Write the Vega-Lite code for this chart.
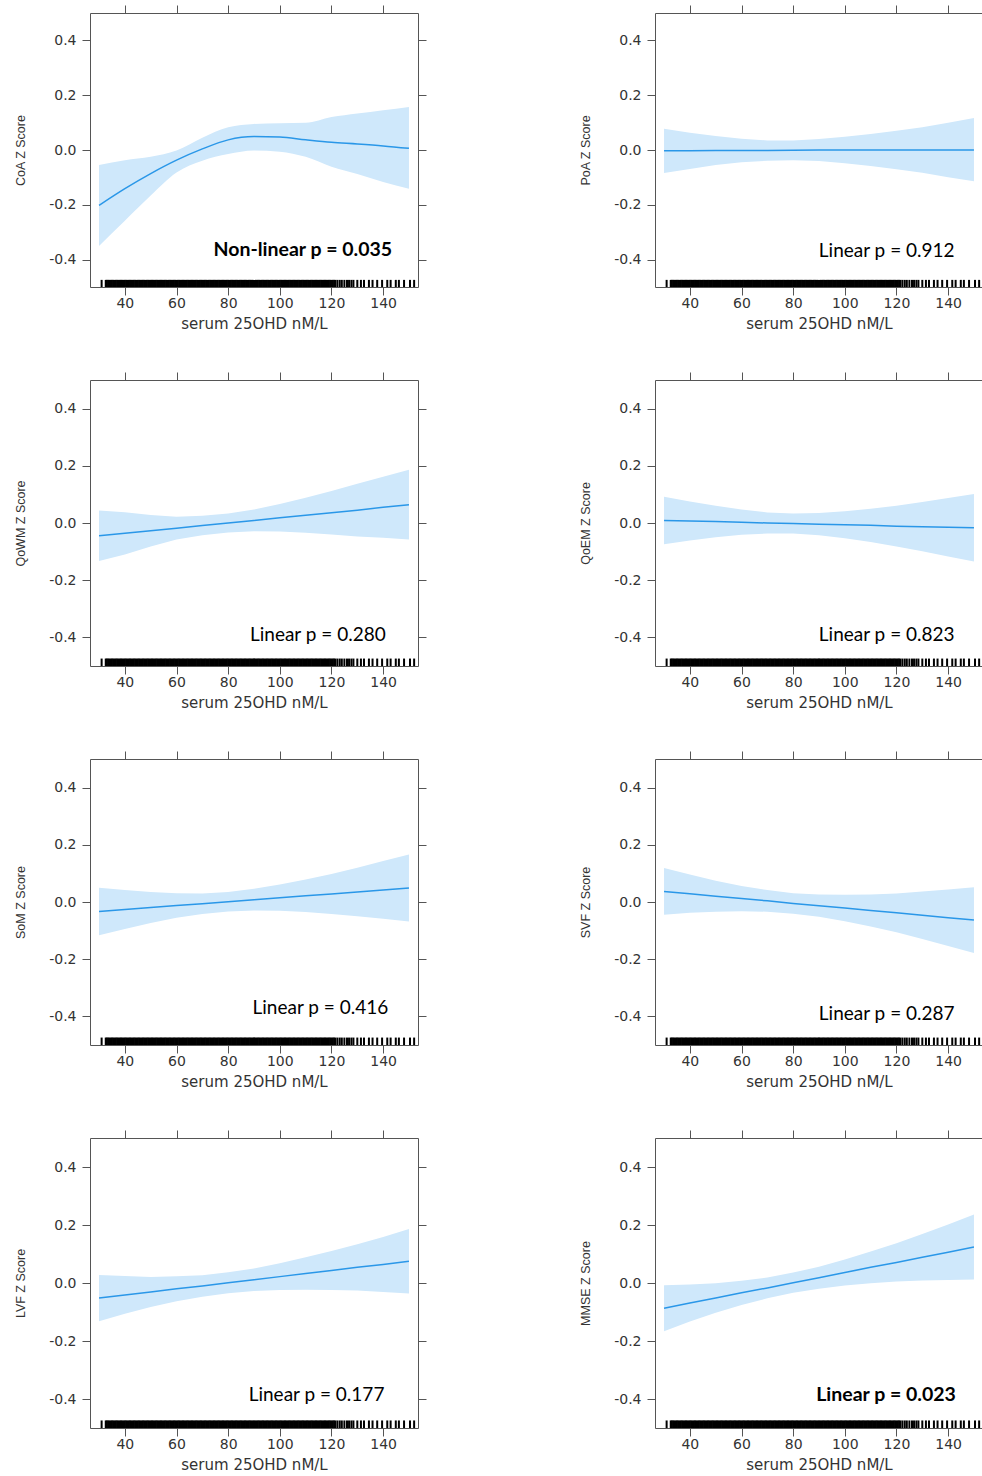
{
  "$schema": "https://vega.github.io/schema/vega-lite/v6.json",
  "background": "white",
  "padding": {"left": 14, "top": 4, "right": 0, "bottom": 5},
  "columns": 2,
  "spacing": {"row": 93, "column": 237},
  "bounds": "flush",
  "datasets": {
    "curves": [
      {"panel": "CoA", "x": 30, "fit": -0.202, "lo": -0.350, "hi": -0.055},
      {"panel": "CoA", "x": 40, "fit": -0.141, "lo": -0.258, "hi": -0.037},
      {"panel": "CoA", "x": 50, "fit": -0.086, "lo": -0.166, "hi": -0.025},
      {"panel": "CoA", "x": 60, "fit": -0.037, "lo": -0.082, "hi": -0.002},
      {"panel": "CoA", "x": 70, "fit": 0.004, "lo": -0.039, "hi": 0.045},
      {"panel": "CoA", "x": 80, "fit": 0.037, "lo": -0.015, "hi": 0.083},
      {"panel": "CoA", "x": 90, "fit": 0.049, "lo": -0.002, "hi": 0.095},
      {"panel": "CoA", "x": 100, "fit": 0.047, "lo": -0.006, "hi": 0.098},
      {"panel": "CoA", "x": 110, "fit": 0.037, "lo": -0.025, "hi": 0.099},
      {"panel": "CoA", "x": 120, "fit": 0.028, "lo": -0.061, "hi": 0.120},
      {"panel": "CoA", "x": 130, "fit": 0.022, "lo": -0.088, "hi": 0.133},
      {"panel": "CoA", "x": 140, "fit": 0.015, "lo": -0.117, "hi": 0.145},
      {"panel": "CoA", "x": 150, "fit": 0.006, "lo": -0.141, "hi": 0.157},

      {"panel": "PoA", "x": 30, "fit": -0.003, "lo": -0.084, "hi": 0.078},
      {"panel": "PoA", "x": 40, "fit": -0.003, "lo": -0.069, "hi": 0.063},
      {"panel": "PoA", "x": 50, "fit": -0.002, "lo": -0.055, "hi": 0.051},
      {"panel": "PoA", "x": 60, "fit": -0.002, "lo": -0.045, "hi": 0.041},
      {"panel": "PoA", "x": 70, "fit": -0.002, "lo": -0.039, "hi": 0.035},
      {"panel": "PoA", "x": 80, "fit": -0.001, "lo": -0.037, "hi": 0.035},
      {"panel": "PoA", "x": 90, "fit": 0.000, "lo": -0.040, "hi": 0.040},
      {"panel": "PoA", "x": 100, "fit": 0.000, "lo": -0.048, "hi": 0.048},
      {"panel": "PoA", "x": 110, "fit": 0.000, "lo": -0.058, "hi": 0.058},
      {"panel": "PoA", "x": 120, "fit": 0.000, "lo": -0.070, "hi": 0.070},
      {"panel": "PoA", "x": 130, "fit": 0.000, "lo": -0.083, "hi": 0.083},
      {"panel": "PoA", "x": 140, "fit": 0.000, "lo": -0.099, "hi": 0.099},
      {"panel": "PoA", "x": 150, "fit": 0.000, "lo": -0.114, "hi": 0.117},

      {"panel": "QoWM", "x": 30, "fit": -0.045, "lo": -0.133, "hi": 0.044},
      {"panel": "QoWM", "x": 40, "fit": -0.036, "lo": -0.110, "hi": 0.038},
      {"panel": "QoWM", "x": 50, "fit": -0.027, "lo": -0.082, "hi": 0.028},
      {"panel": "QoWM", "x": 60, "fit": -0.018, "lo": -0.058, "hi": 0.022},
      {"panel": "QoWM", "x": 70, "fit": -0.009, "lo": -0.043, "hi": 0.025},
      {"panel": "QoWM", "x": 80, "fit": 0.000, "lo": -0.033, "hi": 0.033},
      {"panel": "QoWM", "x": 90, "fit": 0.009, "lo": -0.029, "hi": 0.047},
      {"panel": "QoWM", "x": 100, "fit": 0.018, "lo": -0.030, "hi": 0.066},
      {"panel": "QoWM", "x": 110, "fit": 0.027, "lo": -0.034, "hi": 0.088},
      {"panel": "QoWM", "x": 120, "fit": 0.036, "lo": -0.040, "hi": 0.112},
      {"panel": "QoWM", "x": 130, "fit": 0.045, "lo": -0.047, "hi": 0.137},
      {"panel": "QoWM", "x": 140, "fit": 0.055, "lo": -0.052, "hi": 0.162},
      {"panel": "QoWM", "x": 150, "fit": 0.064, "lo": -0.058, "hi": 0.186},

      {"panel": "QoEM", "x": 30, "fit": 0.009, "lo": -0.074, "hi": 0.092},
      {"panel": "QoEM", "x": 40, "fit": 0.007, "lo": -0.061, "hi": 0.075},
      {"panel": "QoEM", "x": 50, "fit": 0.005, "lo": -0.050, "hi": 0.060},
      {"panel": "QoEM", "x": 60, "fit": 0.003, "lo": -0.041, "hi": 0.047},
      {"panel": "QoEM", "x": 70, "fit": 0.000, "lo": -0.037, "hi": 0.037},
      {"panel": "QoEM", "x": 80, "fit": -0.002, "lo": -0.037, "hi": 0.033},
      {"panel": "QoEM", "x": 90, "fit": -0.004, "lo": -0.043, "hi": 0.035},
      {"panel": "QoEM", "x": 100, "fit": -0.006, "lo": -0.053, "hi": 0.041},
      {"panel": "QoEM", "x": 110, "fit": -0.008, "lo": -0.066, "hi": 0.050},
      {"panel": "QoEM", "x": 120, "fit": -0.011, "lo": -0.082, "hi": 0.060},
      {"panel": "QoEM", "x": 130, "fit": -0.013, "lo": -0.099, "hi": 0.073},
      {"panel": "QoEM", "x": 140, "fit": -0.015, "lo": -0.117, "hi": 0.087},
      {"panel": "QoEM", "x": 150, "fit": -0.017, "lo": -0.135, "hi": 0.101},

      {"panel": "SoM", "x": 30, "fit": -0.033, "lo": -0.116, "hi": 0.050},
      {"panel": "SoM", "x": 40, "fit": -0.026, "lo": -0.094, "hi": 0.042},
      {"panel": "SoM", "x": 50, "fit": -0.019, "lo": -0.073, "hi": 0.035},
      {"panel": "SoM", "x": 60, "fit": -0.012, "lo": -0.055, "hi": 0.031},
      {"panel": "SoM", "x": 70, "fit": -0.006, "lo": -0.042, "hi": 0.030},
      {"panel": "SoM", "x": 80, "fit": 0.001, "lo": -0.033, "hi": 0.035},
      {"panel": "SoM", "x": 90, "fit": 0.008, "lo": -0.030, "hi": 0.046},
      {"panel": "SoM", "x": 100, "fit": 0.015, "lo": -0.031, "hi": 0.061},
      {"panel": "SoM", "x": 110, "fit": 0.022, "lo": -0.035, "hi": 0.079},
      {"panel": "SoM", "x": 120, "fit": 0.028, "lo": -0.042, "hi": 0.098},
      {"panel": "SoM", "x": 130, "fit": 0.035, "lo": -0.050, "hi": 0.120},
      {"panel": "SoM", "x": 140, "fit": 0.042, "lo": -0.059, "hi": 0.143},
      {"panel": "SoM", "x": 150, "fit": 0.049, "lo": -0.068, "hi": 0.166},

      {"panel": "SVF", "x": 30, "fit": 0.037, "lo": -0.045, "hi": 0.119},
      {"panel": "SVF", "x": 40, "fit": 0.029, "lo": -0.038, "hi": 0.096},
      {"panel": "SVF", "x": 50, "fit": 0.020, "lo": -0.034, "hi": 0.074},
      {"panel": "SVF", "x": 60, "fit": 0.012, "lo": -0.032, "hi": 0.056},
      {"panel": "SVF", "x": 70, "fit": 0.004, "lo": -0.034, "hi": 0.042},
      {"panel": "SVF", "x": 80, "fit": -0.005, "lo": -0.041, "hi": 0.031},
      {"panel": "SVF", "x": 90, "fit": -0.013, "lo": -0.052, "hi": 0.026},
      {"panel": "SVF", "x": 100, "fit": -0.021, "lo": -0.067, "hi": 0.025},
      {"panel": "SVF", "x": 110, "fit": -0.030, "lo": -0.086, "hi": 0.026},
      {"panel": "SVF", "x": 120, "fit": -0.038, "lo": -0.106, "hi": 0.030},
      {"panel": "SVF", "x": 130, "fit": -0.046, "lo": -0.129, "hi": 0.037},
      {"panel": "SVF", "x": 140, "fit": -0.055, "lo": -0.154, "hi": 0.044},
      {"panel": "SVF", "x": 150, "fit": -0.063, "lo": -0.178, "hi": 0.052},

      {"panel": "LVF", "x": 30, "fit": -0.052, "lo": -0.132, "hi": 0.028},
      {"panel": "LVF", "x": 40, "fit": -0.041, "lo": -0.106, "hi": 0.024},
      {"panel": "LVF", "x": 50, "fit": -0.031, "lo": -0.083, "hi": 0.021},
      {"panel": "LVF", "x": 60, "fit": -0.020, "lo": -0.063, "hi": 0.023},
      {"panel": "LVF", "x": 70, "fit": -0.010, "lo": -0.047, "hi": 0.027},
      {"panel": "LVF", "x": 80, "fit": 0.001, "lo": -0.035, "hi": 0.037},
      {"panel": "LVF", "x": 90, "fit": 0.011, "lo": -0.028, "hi": 0.050},
      {"panel": "LVF", "x": 100, "fit": 0.022, "lo": -0.024, "hi": 0.068},
      {"panel": "LVF", "x": 110, "fit": 0.033, "lo": -0.023, "hi": 0.089},
      {"panel": "LVF", "x": 120, "fit": 0.043, "lo": -0.024, "hi": 0.110},
      {"panel": "LVF", "x": 130, "fit": 0.054, "lo": -0.026, "hi": 0.134},
      {"panel": "LVF", "x": 140, "fit": 0.064, "lo": -0.031, "hi": 0.159},
      {"panel": "LVF", "x": 150, "fit": 0.075, "lo": -0.036, "hi": 0.186},

      {"panel": "MMSE", "x": 30, "fit": -0.087, "lo": -0.166, "hi": -0.008},
      {"panel": "MMSE", "x": 40, "fit": -0.069, "lo": -0.133, "hi": -0.005},
      {"panel": "MMSE", "x": 50, "fit": -0.052, "lo": -0.103, "hi": -0.001},
      {"panel": "MMSE", "x": 60, "fit": -0.034, "lo": -0.076, "hi": 0.008},
      {"panel": "MMSE", "x": 70, "fit": -0.017, "lo": -0.053, "hi": 0.019},
      {"panel": "MMSE", "x": 80, "fit": 0.001, "lo": -0.034, "hi": 0.036},
      {"panel": "MMSE", "x": 90, "fit": 0.018, "lo": -0.020, "hi": 0.056},
      {"panel": "MMSE", "x": 100, "fit": 0.036, "lo": -0.009, "hi": 0.081},
      {"panel": "MMSE", "x": 110, "fit": 0.054, "lo": -0.001, "hi": 0.109},
      {"panel": "MMSE", "x": 120, "fit": 0.071, "lo": 0.005, "hi": 0.137},
      {"panel": "MMSE", "x": 130, "fit": 0.089, "lo": 0.009, "hi": 0.169},
      {"panel": "MMSE", "x": 140, "fit": 0.106, "lo": 0.010, "hi": 0.202},
      {"panel": "MMSE", "x": 150, "fit": 0.124, "lo": 0.012, "hi": 0.236}
    ],
    "rug": [
      {"v": 31}, {"v": 32.6}, {"v": 33}, {"v": 33.5}, {"v": 34}, {"v": 34.5}, {"v": 35}, {"v": 35.5}, {"v": 36}, {"v": 36.5},
      {"v": 37}, {"v": 37.5}, {"v": 38}, {"v": 38.5}, {"v": 39}, {"v": 39.5}, {"v": 40}, {"v": 40.5}, {"v": 41}, {"v": 41.5},
      {"v": 42}, {"v": 42.5}, {"v": 43}, {"v": 43.5}, {"v": 44}, {"v": 44.5}, {"v": 45}, {"v": 45.5}, {"v": 46}, {"v": 46.5},
      {"v": 47}, {"v": 47.5}, {"v": 48}, {"v": 48.5}, {"v": 49}, {"v": 49.5}, {"v": 50}, {"v": 50.5}, {"v": 51}, {"v": 51.5},
      {"v": 52}, {"v": 52.5}, {"v": 53}, {"v": 53.5}, {"v": 54}, {"v": 54.5}, {"v": 55}, {"v": 55.5}, {"v": 56}, {"v": 56.5},
      {"v": 57}, {"v": 57.5}, {"v": 58}, {"v": 58.5}, {"v": 59}, {"v": 59.5}, {"v": 60}, {"v": 60.5}, {"v": 61}, {"v": 61.5},
      {"v": 62}, {"v": 62.5}, {"v": 63}, {"v": 63.5}, {"v": 64}, {"v": 64.5}, {"v": 65}, {"v": 65.5}, {"v": 66}, {"v": 66.5},
      {"v": 67}, {"v": 67.5}, {"v": 68}, {"v": 68.5}, {"v": 69}, {"v": 69.5}, {"v": 70}, {"v": 70.5}, {"v": 71}, {"v": 71.5},
      {"v": 72}, {"v": 72.5}, {"v": 73}, {"v": 73.5}, {"v": 74}, {"v": 74.5}, {"v": 75}, {"v": 75.5}, {"v": 76}, {"v": 76.5},
      {"v": 77}, {"v": 77.5}, {"v": 78}, {"v": 78.5}, {"v": 79}, {"v": 79.5}, {"v": 80}, {"v": 80.5}, {"v": 81}, {"v": 81.5},
      {"v": 82}, {"v": 82.5}, {"v": 83}, {"v": 83.5}, {"v": 84}, {"v": 84.5}, {"v": 85}, {"v": 85.5}, {"v": 86}, {"v": 86.5},
      {"v": 87}, {"v": 87.5}, {"v": 88}, {"v": 88.5}, {"v": 89}, {"v": 89.5}, {"v": 90}, {"v": 90.5}, {"v": 91}, {"v": 91.5},
      {"v": 92}, {"v": 92.5}, {"v": 93}, {"v": 93.5}, {"v": 94}, {"v": 94.5}, {"v": 95}, {"v": 95.5}, {"v": 96}, {"v": 96.5},
      {"v": 97}, {"v": 97.5}, {"v": 98}, {"v": 98.5}, {"v": 99}, {"v": 99.5}, {"v": 100}, {"v": 100.5}, {"v": 101}, {"v": 101.5},
      {"v": 102}, {"v": 102.5}, {"v": 103}, {"v": 103.5}, {"v": 104}, {"v": 104.5}, {"v": 105}, {"v": 105.5}, {"v": 106}, {"v": 106.5},
      {"v": 107}, {"v": 107.5}, {"v": 108}, {"v": 108.5}, {"v": 109}, {"v": 109.5}, {"v": 110}, {"v": 110.5}, {"v": 111}, {"v": 111.5},
      {"v": 112}, {"v": 112.5}, {"v": 113}, {"v": 113.5}, {"v": 114}, {"v": 114.5}, {"v": 115}, {"v": 115.5}, {"v": 116}, {"v": 116.5},
      {"v": 117}, {"v": 117.5}, {"v": 118}, {"v": 118.5}, {"v": 119}, {"v": 119.5}, {"v": 120}, {"v": 120.5}, {"v": 121}, {"v": 121.5},
      {"v": 122.3}, {"v": 123.2}, {"v": 124}, {"v": 125}, {"v": 126}, {"v": 126.8}, {"v": 127.7}, {"v": 128.5},
      {"v": 130}, {"v": 131.4}, {"v": 132.6}, {"v": 134.5}, {"v": 135.9}, {"v": 137.7}, {"v": 139.6}, {"v": 141.6},
      {"v": 142.9}, {"v": 144.9}, {"v": 146.1}, {"v": 148.1}, {"v": 150.4}, {"v": 152}
    ],
    "notes": [
      {"panel": "CoA", "label": "Non-linear p = 0.035"},
      {"panel": "PoA", "label": "Linear p = 0.912"},
      {"panel": "QoWM", "label": "Linear p = 0.280"},
      {"panel": "QoEM", "label": "Linear p = 0.823"},
      {"panel": "SoM", "label": "Linear p = 0.416"},
      {"panel": "SVF", "label": "Linear p = 0.287"},
      {"panel": "LVF", "label": "Linear p = 0.177"},
      {"panel": "MMSE", "label": "Linear p = 0.023"}
    ]
  },
  "concat": [
    {
      "width": 328, "height": 274,
      "layer": [
        {"data": {"name": "curves"}, "transform": [{"filter": "datum.panel === 'CoA'"}],
         "mark": {"type": "area", "color": "#cfe8fb", "opacity": 1, "interpolate": "monotone"},
         "encoding": {
           "x": {"field": "x", "type": "quantitative", "scale": {"domain": [26.5, 153.5], "nice": false, "zero": false}, "axis": {"orient": "bottom", "title": "serum 25OHD nM/L", "values": [40, 60, 80, 100, 120, 140]}},
           "y": {"field": "lo", "type": "quantitative", "scale": {"domain": [-0.5, 0.5], "nice": false, "zero": false}, "axis": {"orient": "left", "title": "CoA Z Score", "values": [-0.4, -0.2, 0, 0.2, 0.4], "labelExpr": "datum.value < 0 ? '-' + format(-datum.value, '.1f') : format(datum.value, '.1f')"}},
           "y2": {"field": "hi"}}},
        {"data": {"name": "curves"}, "transform": [{"filter": "datum.panel === 'CoA'"}],
         "mark": {"type": "line", "color": "#2a97e8", "strokeWidth": 1.5, "interpolate": "monotone"},
         "encoding": {
           "x": {"field": "x", "type": "quantitative", "axis": {"orient": "top", "labels": false, "title": null, "values": [40, 60, 80, 100, 120, 140]}},
           "y": {"field": "fit", "type": "quantitative", "axis": {"orient": "right", "labels": false, "title": null, "values": [-0.4, -0.2, 0, 0.2, 0.4]}}}},
        {"data": {"name": "rug"}, "mark": {"type": "rule", "color": "#000000", "strokeWidth": 2},
         "encoding": {"x": {"field": "v", "type": "quantitative", "axis": null}, "y": {"datum": -0.5, "axis": null}, "y2": {"datum": -0.474}}},
        {"data": {"name": "notes"}, "transform": [{"filter": "datum.panel === 'CoA'"}],
         "mark": {"type": "text", "align": "right", "baseline": "middle", "font": "Lato", "fontSize": 19.5, "fontWeight": "bold", "color": "#000000"},
         "encoding": {"x": {"datum": 143.5, "axis": null}, "y": {"datum": -0.365, "axis": null}, "text": {"field": "label"}}}
      ]
    },
    {
      "width": 328, "height": 274,
      "layer": [
        {"data": {"name": "curves"}, "transform": [{"filter": "datum.panel === 'PoA'"}],
         "mark": {"type": "area", "color": "#cfe8fb", "opacity": 1},
         "encoding": {
           "x": {"field": "x", "type": "quantitative", "scale": {"domain": [26.5, 153.5], "nice": false, "zero": false}, "axis": {"orient": "bottom", "title": "serum 25OHD nM/L", "values": [40, 60, 80, 100, 120, 140]}},
           "y": {"field": "lo", "type": "quantitative", "scale": {"domain": [-0.5, 0.5], "nice": false, "zero": false}, "axis": {"orient": "left", "title": "PoA Z Score", "values": [-0.4, -0.2, 0, 0.2, 0.4], "labelExpr": "datum.value < 0 ? '-' + format(-datum.value, '.1f') : format(datum.value, '.1f')"}},
           "y2": {"field": "hi"}}},
        {"data": {"name": "curves"}, "transform": [{"filter": "datum.panel === 'PoA'"}],
         "mark": {"type": "line", "color": "#2a97e8", "strokeWidth": 1.5},
         "encoding": {
           "x": {"field": "x", "type": "quantitative", "axis": {"orient": "top", "labels": false, "title": null, "values": [40, 60, 80, 100, 120, 140]}},
           "y": {"field": "fit", "type": "quantitative", "axis": {"orient": "right", "labels": false, "title": null, "values": [-0.4, -0.2, 0, 0.2, 0.4]}}}},
        {"data": {"name": "rug"}, "mark": {"type": "rule", "color": "#000000", "strokeWidth": 2},
         "encoding": {"x": {"field": "v", "type": "quantitative", "axis": null}, "y": {"datum": -0.5, "axis": null}, "y2": {"datum": -0.474}}},
        {"data": {"name": "notes"}, "transform": [{"filter": "datum.panel === 'PoA'"}],
         "mark": {"type": "text", "align": "right", "baseline": "middle", "font": "Lato", "fontSize": 19, "color": "#000000"},
         "encoding": {"x": {"datum": 142.5, "axis": null}, "y": {"datum": -0.37, "axis": null}, "text": {"field": "label"}}}
      ]
    },
    {
      "width": 328, "height": 286,
      "layer": [
        {"data": {"name": "curves"}, "transform": [{"filter": "datum.panel === 'QoWM'"}],
         "mark": {"type": "area", "color": "#cfe8fb", "opacity": 1},
         "encoding": {
           "x": {"field": "x", "type": "quantitative", "scale": {"domain": [26.5, 153.5], "nice": false, "zero": false}, "axis": {"orient": "bottom", "title": "serum 25OHD nM/L", "values": [40, 60, 80, 100, 120, 140]}},
           "y": {"field": "lo", "type": "quantitative", "scale": {"domain": [-0.5, 0.5], "nice": false, "zero": false}, "axis": {"orient": "left", "title": "QoWM Z Score", "values": [-0.4, -0.2, 0, 0.2, 0.4], "labelExpr": "datum.value < 0 ? '-' + format(-datum.value, '.1f') : format(datum.value, '.1f')"}},
           "y2": {"field": "hi"}}},
        {"data": {"name": "curves"}, "transform": [{"filter": "datum.panel === 'QoWM'"}],
         "mark": {"type": "line", "color": "#2a97e8", "strokeWidth": 1.5},
         "encoding": {
           "x": {"field": "x", "type": "quantitative", "axis": {"orient": "top", "labels": false, "title": null, "values": [40, 60, 80, 100, 120, 140]}},
           "y": {"field": "fit", "type": "quantitative", "axis": {"orient": "right", "labels": false, "title": null, "values": [-0.4, -0.2, 0, 0.2, 0.4]}}}},
        {"data": {"name": "rug"}, "mark": {"type": "rule", "color": "#000000", "strokeWidth": 2},
         "encoding": {"x": {"field": "v", "type": "quantitative", "axis": null}, "y": {"datum": -0.5, "axis": null}, "y2": {"datum": -0.474}}},
        {"data": {"name": "notes"}, "transform": [{"filter": "datum.panel === 'QoWM'"}],
         "mark": {"type": "text", "align": "right", "baseline": "middle", "font": "Lato", "fontSize": 19, "color": "#000000"},
         "encoding": {"x": {"datum": 141, "axis": null}, "y": {"datum": -0.39, "axis": null}, "text": {"field": "label"}}}
      ]
    },
    {
      "width": 328, "height": 286,
      "layer": [
        {"data": {"name": "curves"}, "transform": [{"filter": "datum.panel === 'QoEM'"}],
         "mark": {"type": "area", "color": "#cfe8fb", "opacity": 1},
         "encoding": {
           "x": {"field": "x", "type": "quantitative", "scale": {"domain": [26.5, 153.5], "nice": false, "zero": false}, "axis": {"orient": "bottom", "title": "serum 25OHD nM/L", "values": [40, 60, 80, 100, 120, 140]}},
           "y": {"field": "lo", "type": "quantitative", "scale": {"domain": [-0.5, 0.5], "nice": false, "zero": false}, "axis": {"orient": "left", "title": "QoEM Z Score", "values": [-0.4, -0.2, 0, 0.2, 0.4], "labelExpr": "datum.value < 0 ? '-' + format(-datum.value, '.1f') : format(datum.value, '.1f')"}},
           "y2": {"field": "hi"}}},
        {"data": {"name": "curves"}, "transform": [{"filter": "datum.panel === 'QoEM'"}],
         "mark": {"type": "line", "color": "#2a97e8", "strokeWidth": 1.5},
         "encoding": {
           "x": {"field": "x", "type": "quantitative", "axis": {"orient": "top", "labels": false, "title": null, "values": [40, 60, 80, 100, 120, 140]}},
           "y": {"field": "fit", "type": "quantitative", "axis": {"orient": "right", "labels": false, "title": null, "values": [-0.4, -0.2, 0, 0.2, 0.4]}}}},
        {"data": {"name": "rug"}, "mark": {"type": "rule", "color": "#000000", "strokeWidth": 2},
         "encoding": {"x": {"field": "v", "type": "quantitative", "axis": null}, "y": {"datum": -0.5, "axis": null}, "y2": {"datum": -0.474}}},
        {"data": {"name": "notes"}, "transform": [{"filter": "datum.panel === 'QoEM'"}],
         "mark": {"type": "text", "align": "right", "baseline": "middle", "font": "Lato", "fontSize": 19, "color": "#000000"},
         "encoding": {"x": {"datum": 142.5, "axis": null}, "y": {"datum": -0.39, "axis": null}, "text": {"field": "label"}}}
      ]
    },
    {
      "width": 328, "height": 286,
      "layer": [
        {"data": {"name": "curves"}, "transform": [{"filter": "datum.panel === 'SoM'"}],
         "mark": {"type": "area", "color": "#cfe8fb", "opacity": 1},
         "encoding": {
           "x": {"field": "x", "type": "quantitative", "scale": {"domain": [26.5, 153.5], "nice": false, "zero": false}, "axis": {"orient": "bottom", "title": "serum 25OHD nM/L", "values": [40, 60, 80, 100, 120, 140]}},
           "y": {"field": "lo", "type": "quantitative", "scale": {"domain": [-0.5, 0.5], "nice": false, "zero": false}, "axis": {"orient": "left", "title": "SoM Z Score", "values": [-0.4, -0.2, 0, 0.2, 0.4], "labelExpr": "datum.value < 0 ? '-' + format(-datum.value, '.1f') : format(datum.value, '.1f')"}},
           "y2": {"field": "hi"}}},
        {"data": {"name": "curves"}, "transform": [{"filter": "datum.panel === 'SoM'"}],
         "mark": {"type": "line", "color": "#2a97e8", "strokeWidth": 1.5},
         "encoding": {
           "x": {"field": "x", "type": "quantitative", "axis": {"orient": "top", "labels": false, "title": null, "values": [40, 60, 80, 100, 120, 140]}},
           "y": {"field": "fit", "type": "quantitative", "axis": {"orient": "right", "labels": false, "title": null, "values": [-0.4, -0.2, 0, 0.2, 0.4]}}}},
        {"data": {"name": "rug"}, "mark": {"type": "rule", "color": "#000000", "strokeWidth": 2},
         "encoding": {"x": {"field": "v", "type": "quantitative", "axis": null}, "y": {"datum": -0.5, "axis": null}, "y2": {"datum": -0.474}}},
        {"data": {"name": "notes"}, "transform": [{"filter": "datum.panel === 'SoM'"}],
         "mark": {"type": "text", "align": "right", "baseline": "middle", "font": "Lato", "fontSize": 19, "color": "#000000"},
         "encoding": {"x": {"datum": 142, "axis": null}, "y": {"datum": -0.37, "axis": null}, "text": {"field": "label"}}}
      ]
    },
    {
      "width": 328, "height": 286,
      "layer": [
        {"data": {"name": "curves"}, "transform": [{"filter": "datum.panel === 'SVF'"}],
         "mark": {"type": "area", "color": "#cfe8fb", "opacity": 1},
         "encoding": {
           "x": {"field": "x", "type": "quantitative", "scale": {"domain": [26.5, 153.5], "nice": false, "zero": false}, "axis": {"orient": "bottom", "title": "serum 25OHD nM/L", "values": [40, 60, 80, 100, 120, 140]}},
           "y": {"field": "lo", "type": "quantitative", "scale": {"domain": [-0.5, 0.5], "nice": false, "zero": false}, "axis": {"orient": "left", "title": "SVF Z Score", "values": [-0.4, -0.2, 0, 0.2, 0.4], "labelExpr": "datum.value < 0 ? '-' + format(-datum.value, '.1f') : format(datum.value, '.1f')"}},
           "y2": {"field": "hi"}}},
        {"data": {"name": "curves"}, "transform": [{"filter": "datum.panel === 'SVF'"}],
         "mark": {"type": "line", "color": "#2a97e8", "strokeWidth": 1.5},
         "encoding": {
           "x": {"field": "x", "type": "quantitative", "axis": {"orient": "top", "labels": false, "title": null, "values": [40, 60, 80, 100, 120, 140]}},
           "y": {"field": "fit", "type": "quantitative", "axis": {"orient": "right", "labels": false, "title": null, "values": [-0.4, -0.2, 0, 0.2, 0.4]}}}},
        {"data": {"name": "rug"}, "mark": {"type": "rule", "color": "#000000", "strokeWidth": 2},
         "encoding": {"x": {"field": "v", "type": "quantitative", "axis": null}, "y": {"datum": -0.5, "axis": null}, "y2": {"datum": -0.474}}},
        {"data": {"name": "notes"}, "transform": [{"filter": "datum.panel === 'SVF'"}],
         "mark": {"type": "text", "align": "right", "baseline": "middle", "font": "Lato", "fontSize": 19, "color": "#000000"},
         "encoding": {"x": {"datum": 142.5, "axis": null}, "y": {"datum": -0.39, "axis": null}, "text": {"field": "label"}}}
      ]
    },
    {
      "width": 328, "height": 290,
      "layer": [
        {"data": {"name": "curves"}, "transform": [{"filter": "datum.panel === 'LVF'"}],
         "mark": {"type": "area", "color": "#cfe8fb", "opacity": 1},
         "encoding": {
           "x": {"field": "x", "type": "quantitative", "scale": {"domain": [26.5, 153.5], "nice": false, "zero": false}, "axis": {"orient": "bottom", "title": "serum 25OHD nM/L", "values": [40, 60, 80, 100, 120, 140]}},
           "y": {"field": "lo", "type": "quantitative", "scale": {"domain": [-0.5, 0.5], "nice": false, "zero": false}, "axis": {"orient": "left", "title": "LVF Z Score", "values": [-0.4, -0.2, 0, 0.2, 0.4], "labelExpr": "datum.value < 0 ? '-' + format(-datum.value, '.1f') : format(datum.value, '.1f')"}},
           "y2": {"field": "hi"}}},
        {"data": {"name": "curves"}, "transform": [{"filter": "datum.panel === 'LVF'"}],
         "mark": {"type": "line", "color": "#2a97e8", "strokeWidth": 1.5},
         "encoding": {
           "x": {"field": "x", "type": "quantitative", "axis": {"orient": "top", "labels": false, "title": null, "values": [40, 60, 80, 100, 120, 140]}},
           "y": {"field": "fit", "type": "quantitative", "axis": {"orient": "right", "labels": false, "title": null, "values": [-0.4, -0.2, 0, 0.2, 0.4]}}}},
        {"data": {"name": "rug"}, "mark": {"type": "rule", "color": "#000000", "strokeWidth": 2},
         "encoding": {"x": {"field": "v", "type": "quantitative", "axis": null}, "y": {"datum": -0.5, "axis": null}, "y2": {"datum": -0.474}}},
        {"data": {"name": "notes"}, "transform": [{"filter": "datum.panel === 'LVF'"}],
         "mark": {"type": "text", "align": "right", "baseline": "middle", "font": "Lato", "fontSize": 19, "color": "#000000"},
         "encoding": {"x": {"datum": 140.5, "axis": null}, "y": {"datum": -0.385, "axis": null}, "text": {"field": "label"}}}
      ]
    },
    {
      "width": 328, "height": 290,
      "layer": [
        {"data": {"name": "curves"}, "transform": [{"filter": "datum.panel === 'MMSE'"}],
         "mark": {"type": "area", "color": "#cfe8fb", "opacity": 1},
         "encoding": {
           "x": {"field": "x", "type": "quantitative", "scale": {"domain": [26.5, 153.5], "nice": false, "zero": false}, "axis": {"orient": "bottom", "title": "serum 25OHD nM/L", "values": [40, 60, 80, 100, 120, 140]}},
           "y": {"field": "lo", "type": "quantitative", "scale": {"domain": [-0.5, 0.5], "nice": false, "zero": false}, "axis": {"orient": "left", "title": "MMSE Z Score", "values": [-0.4, -0.2, 0, 0.2, 0.4], "labelExpr": "datum.value < 0 ? '-' + format(-datum.value, '.1f') : format(datum.value, '.1f')"}},
           "y2": {"field": "hi"}}},
        {"data": {"name": "curves"}, "transform": [{"filter": "datum.panel === 'MMSE'"}],
         "mark": {"type": "line", "color": "#2a97e8", "strokeWidth": 1.5},
         "encoding": {
           "x": {"field": "x", "type": "quantitative", "axis": {"orient": "top", "labels": false, "title": null, "values": [40, 60, 80, 100, 120, 140]}},
           "y": {"field": "fit", "type": "quantitative", "axis": {"orient": "right", "labels": false, "title": null, "values": [-0.4, -0.2, 0, 0.2, 0.4]}}}},
        {"data": {"name": "rug"}, "mark": {"type": "rule", "color": "#000000", "strokeWidth": 2},
         "encoding": {"x": {"field": "v", "type": "quantitative", "axis": null}, "y": {"datum": -0.5, "axis": null}, "y2": {"datum": -0.474}}},
        {"data": {"name": "notes"}, "transform": [{"filter": "datum.panel === 'MMSE'"}],
         "mark": {"type": "text", "align": "right", "baseline": "middle", "font": "Lato", "fontSize": 19.5, "fontWeight": "bold", "color": "#000000"},
         "encoding": {"x": {"datum": 143, "axis": null}, "y": {"datum": -0.385, "axis": null}, "text": {"field": "label"}}}
      ]
    }
  ],
  "config": {
    "view": {"stroke": "#555555", "strokeWidth": 1},
    "axis": {
      "domain": false, "grid": false, "ticks": true, "tickColor": "#555555", "tickSize": 8, "tickWidth": 1,
      "labelFont": "DejaVu Sans", "labelFontSize": 14, "labelColor": "#333333", "labelPadding": 6,
      "titleFont": "DejaVu Sans", "titleFontWeight": "normal", "titleColor": "#333333"
    },
    "axisX": {"titleFontSize": 15, "titlePadding": 6, "labelPadding": 1},
    "axisY": {"titleFont": "Liberation Sans", "titleFontSize": 12.5, "titlePadding": 21}
  }
}
